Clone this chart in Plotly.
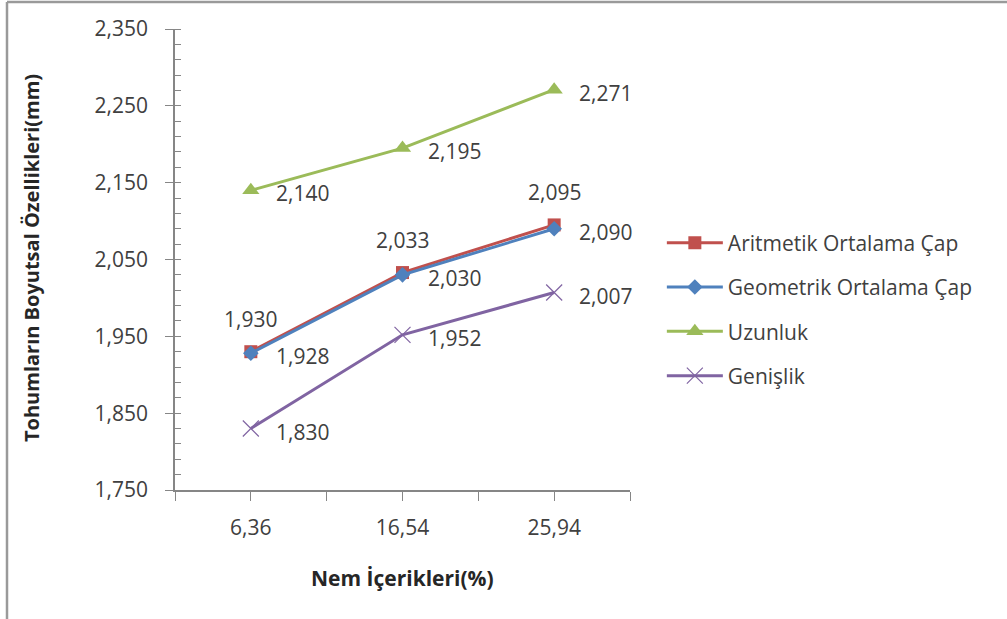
import plotly.graph_objects as go

categories = ["6,36", "16,54", "25,94"]
aritmetik = [1.930, 2.033, 2.095]
geometrik = [1.928, 2.030, 2.090]
uzunluk = [2.140, 2.195, 2.271]
genislik = [1.830, 1.952, 2.007]
y_tick_vals = [1.75, 1.85, 1.95, 2.05, 2.15, 2.25, 2.35]

FONT = "Open Sans"
TXT = "#404040"
xpos = list(range(len(categories)))


def lab(v):
    return f"{v:.3f}".replace(".", ",")


series = [
    ("Aritmetik Ortalama Çap", aritmetik, "#C0504D", dict(symbol="square", size=13, color="#C0504D")),
    ("Geometrik Ortalama Çap", geometrik, "#4F81BD", dict(symbol="diamond", size=12, color="#4F81BD")),
    ("Uzunluk", uzunluk, "#9BBB59", dict(symbol="triangle-up", size=15, color="#9BBB59")),
    ("Genişlik", genislik, "#8064A2", dict(symbol="x-thin-open", size=16, line=dict(color="#8064A2", width=1.2))),
]

fig = go.Figure()
annotations = []
for name, vals, color, marker in series:
    fig.add_trace(go.Scatter(
        x=xpos, y=vals, name=name, legendgroup=name, mode="lines+markers",
        line=dict(color=color, width=3), marker=marker))
    for xi, v in zip(xpos, vals):
        if name == "Aritmetik Ortalama Çap":
            annotations.append(dict(x=xi, y=v, xref="x", yref="y", text=lab(v), showarrow=False,
                                    xanchor="center", yanchor="middle", yshift=33,
                                    font=dict(family=FONT, size=21, color=TXT)))
        else:
            annotations.append(dict(x=xi, y=v, xref="x", yref="y", text=lab(v), showarrow=False,
                                    xanchor="left", yanchor="middle", xshift=23, yshift=-3,
                                    font=dict(family=FONT, size=21, color=TXT)))

annotations += [
    dict(text="<b>Nem İçerikleri(%)</b>", xref="paper", yref="paper",
         x=0.5, y=(490 - 578) / 461, xanchor="center", yanchor="middle", showarrow=False,
         font=dict(family=FONT, size=21, color="#262626")),
    dict(text="<b>Tohumların Boyutsal Özellikleri(mm)</b>", xref="paper", yref="paper",
         x=(31 - 175) / 455, y=(490 - 258) / 461, xanchor="center", yanchor="middle", showarrow=False,
         textangle=-90, font=dict(family=FONT, size=20, color="#262626")),
]

fig.update_layout(
    width=1007, height=619,
    margin=dict(l=175, r=377, t=29, b=129),
    paper_bgcolor="white", plot_bgcolor="white",
    separators=",.",
    font=dict(family=FONT, size=21, color=TXT),
    showlegend=True,
    legend=dict(x=1.07, y=0.58, xanchor="left", yanchor="top",
                font=dict(family=FONT, size=21, color=TXT),
                tracegroupgap=14, itemwidth=56, bgcolor="rgba(0,0,0,0)"),
    xaxis=dict(range=[-0.5, 2.5], tickvals=xpos, ticktext=categories,
               showgrid=False, zeroline=False, showline=True,
               linecolor="#868686", linewidth=1.5,
               ticks="outside", ticklen=9, tickcolor="#868686",
               ticklabelstandoff=9,
               minor=dict(tick0=-0.5, dtick=0.5, ticks="outside", ticklen=9, tickcolor="#868686"),
               tickfont=dict(family=FONT, size=21, color=TXT)),
    yaxis=dict(range=[1.75, 2.35], tickvals=y_tick_vals, tickformat=".3f",
               showgrid=False, zeroline=False, showline=True,
               linecolor="#868686", linewidth=1.5,
               ticks="outside", ticklen=8, tickcolor="#868686",
               ticklabelstandoff=13,
               minor=dict(tick0=1.75, dtick=0.02, ticks="inside", ticklen=6, tickcolor="#868686"),
               tickfont=dict(family=FONT, size=21, color=TXT)),
    annotations=annotations,
    shapes=[
        dict(type="line", xref="paper", yref="paper", x0=(7 - 175) / 455, x1=(7 - 175) / 455,
             y0=(490 - 2) / 461, y1=(490 - 640) / 461, line=dict(color="#9a9a9a", width=2.5)),
        dict(type="line", xref="paper", yref="paper", x0=(7 - 175) / 455, x1=(1030 - 175) / 455,
             y0=(490 - 2) / 461, y1=(490 - 2) / 461, line=dict(color="#9a9a9a", width=2.5)),
    ],
)

fig.write_html("out.html", config={"displayModeBar": False},
               post_script="document.body.style.margin='0';")
